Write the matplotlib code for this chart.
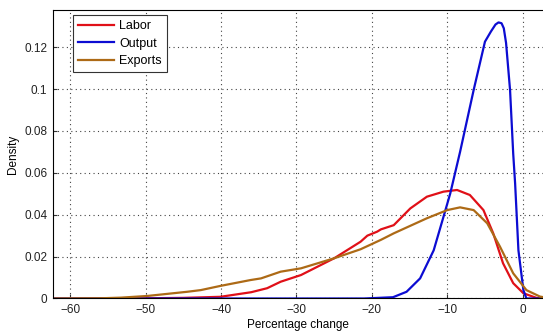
import matplotlib
matplotlib.use("Agg")
from matplotlib import pyplot as plt

# values
labor_x = [-62, -50, -45, -40.1, -36, -33.9, -32.1, -29.4, -25.0, -21.5, -20.6, -19.3, -18.8, -17.1,
           -14.9, -12.7, -10.5, -8.7, -7.0, -5.2, -3.9, -2.6, -1.25, 0.1, 1.9, 3]
labor_y = [0, 0.0001, 0.0003, 0.0008, 0.003, 0.0049, 0.008, 0.0112, 0.0192, 0.0271, 0.030, 0.0319, 0.033,
           0.035, 0.043, 0.0486, 0.051, 0.0518, 0.0494, 0.0422, 0.0311, 0.0168, 0.0073, 0.0025, 0.0002, 0]

output_x = [-62, -21, -17.2, -15.4, -13.6, -11.8, -10.5, -9.6, -8.3, -6.5, -5.0, -4.2, -3.6, -3.2,
            -2.8, -2.5, -2.2, -1.67, -1.25, -1.0, -0.56, 0.1, 0.5, 3]
output_y = [0, 0, 0.0006, 0.0032, 0.0096, 0.023, 0.039, 0.0502, 0.0700, 0.0995, 0.1226, 0.1275, 0.1308,
            0.1318, 0.1314, 0.1290, 0.122, 0.0995, 0.069, 0.055, 0.023, 0.004, 0, 0]

exports_x = [-62, -56, -53.3, -49.8, -44.5, -42.7, -40.1, -36.1, -34.7, -32.1, -29.4, -25.0, -21.5,
             -18.8, -17.1, -12.7, -10.0, -8.3, -6.5, -4.7, -3.0, -1.25, 0.5, 2.3, 3]
exports_y = [0, 0.0001, 0.0004, 0.0012, 0.0032, 0.004, 0.006, 0.0088, 0.0096, 0.0128, 0.0144, 0.0192,
             0.0235, 0.028, 0.0311, 0.0383, 0.0422, 0.0435, 0.0422, 0.0359, 0.0247, 0.012, 0.004, 0.0009, 0.0005]

x_ticks = [-60, -50, -40, -30, -20, -10, 0]
y_ticks = [0, 0.02, 0.04, 0.06, 0.08, 0.1, 0.12]
y_tick_labels = ['0', '0.02', '0.04', '0.06', '0.08', '0.1', '0.12']

plt.rcParams['font.family'] = ['Liberation Sans', 'DejaVu Sans']
plt.rcParams['font.size'] = 8.5

fig = plt.figure(figsize=(5.43, 3.35), dpi=100)
ax = fig.add_axes([0.0976, 0.109, 0.9024, 0.861])

ax.plot(labor_x, labor_y, color='#e01018', lw=1.6, label='Labor')
ax.plot(output_x, output_y, color='#0c0cd2', lw=1.6, label='Output')
ax.plot(exports_x, exports_y, color='#ad6a16', lw=1.6, label='Exports')

ax.set_xlim(-62.3, 2.7)
ax.set_ylim(0, 0.1377)
ax.set_xticks(x_ticks)
ax.set_yticks(y_ticks)
ax.set_yticklabels(y_tick_labels)
ax.tick_params(direction='in', length=3, pad=4, colors='#333333', labelcolor='#222222')
ax.grid(True, color='#444444', linestyle=(0, (1, 3)), linewidth=0.8)
ax.spines['right'].set_visible(False)
ax.set_xlabel('Percentage change', labelpad=2)
ax.set_ylabel('Density', labelpad=4)

leg = ax.legend(loc='upper left', bbox_to_anchor=(0.041, 0.983), borderaxespad=0, fancybox=False,
                framealpha=1, edgecolor='#333333', handlelength=2.9, borderpad=0.4, labelspacing=0.45,
                handletextpad=0.4, fontsize=9)
leg.get_frame().set_linewidth(0.8)

plt.savefig('out.png', dpi=100)
